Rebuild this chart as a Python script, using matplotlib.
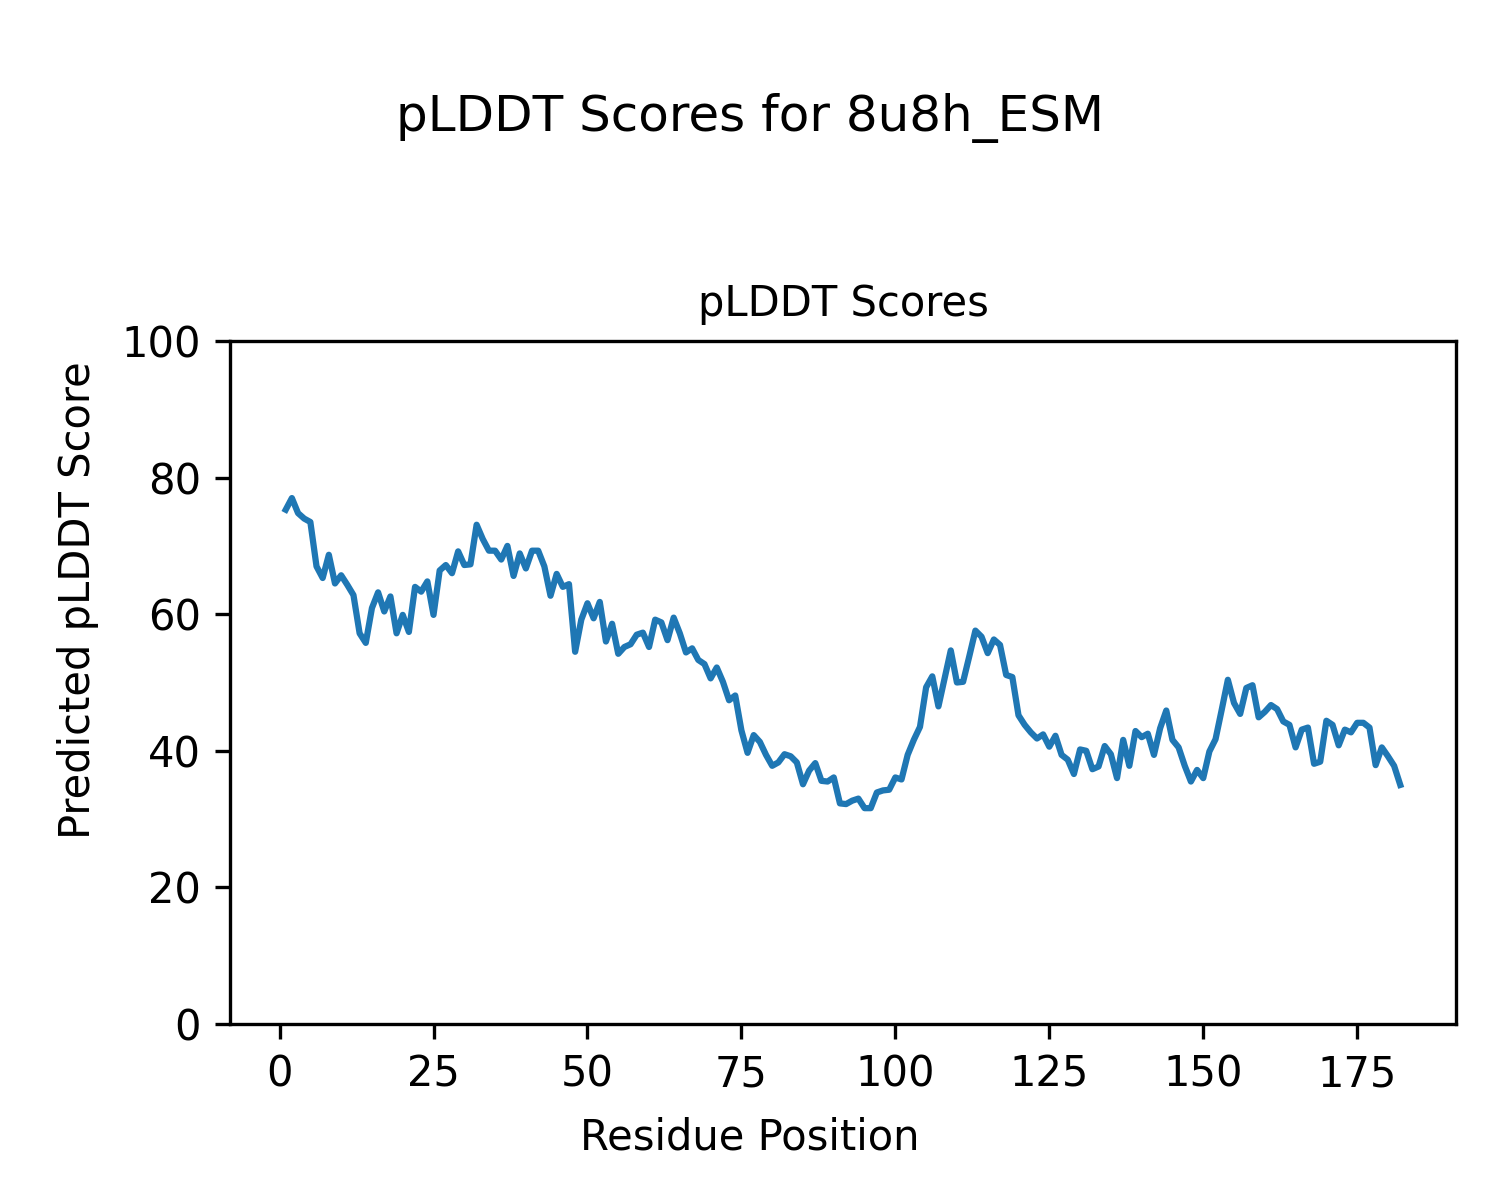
import matplotlib
matplotlib.use("Agg")
import matplotlib.pyplot as plt
import numpy as np

residues = list(range(1, 183))
plddt = [
    75.3, 77.0, 74.8, 74.0, 73.5, 67.0, 65.3, 68.7, 64.5, 65.7,
    64.3, 62.8, 57.2, 55.8, 60.9, 63.2, 60.4, 62.6, 57.2, 59.9,
    57.4, 64.0, 63.3, 64.8, 59.9, 66.4, 67.2, 66.0, 69.2, 67.2,
    67.3, 73.1, 71.0, 69.3, 69.3, 68.0, 70.0, 65.6, 68.9, 66.7,
    69.3, 69.3, 67.0, 62.7, 65.9, 64.0, 64.4, 54.5, 59.2, 61.6,
    59.4, 61.8, 56.0, 58.6, 54.2, 55.2, 55.6, 57.0, 57.3, 55.2,
    59.2, 58.8, 56.2, 59.5, 57.2, 54.4, 55.0, 53.3, 52.7, 50.6,
    52.2, 50.1, 47.4, 48.1, 43.0, 39.7, 42.3, 41.3, 39.4, 37.8,
    38.3, 39.5, 39.2, 38.3, 35.1, 37.1, 38.2, 35.6, 35.5, 36.1,
    32.3, 32.2, 32.7, 33.0, 31.6, 31.6, 33.9, 34.2, 34.3, 36.1,
    35.8, 39.4, 41.6, 43.5, 49.3, 50.9, 46.5, 50.6, 54.7, 50.0,
    50.1, 53.8, 57.6, 56.7, 54.3, 56.3, 55.5, 51.1, 50.8, 45.2,
    43.8, 42.7, 41.8, 42.4, 40.6, 42.2, 39.4, 38.7, 36.6, 40.2,
    40.0, 37.3, 37.7, 40.7, 39.5, 36.0, 41.6, 37.8, 42.9, 42.0,
    42.5, 39.4, 43.3, 45.9, 41.6, 40.5, 37.8, 35.5, 37.2, 36.0,
    39.9, 41.7, 46.0, 50.4, 47.0, 45.4, 49.2, 49.6, 44.9, 45.7,
    46.7, 46.1, 44.3, 43.8, 40.5, 43.1, 43.4, 38.1, 38.4, 44.4,
    43.8, 40.8, 43.1, 42.7, 44.1, 44.1, 43.4, 37.9, 40.5, 39.2,
    37.8, 35.0,
]

fig = plt.figure(figsize=(5, 4), dpi=300)
ax = fig.add_axes([230 / 1500, 1 - 1024 / 1200, (1456 - 230) / 1500, (1024 - 341) / 1200])
ax.plot(residues, plddt, color="#1f77b4", linewidth=1.5)
ax.set_ylim(0, 100)
ax.set_title("pLDDT Scores", fontsize=10)
fig.supxlabel("Residue Position", fontsize=10, x=0.5, y=1 - 1138 / 1200, va="center")
fig.supylabel("Predicted pLDDT Score", fontsize=10, x=78 / 1500, y=0.5, ha="center", va="center")
fig.suptitle("pLDDT Scores for 8u8h_ESM", fontsize=12, y=1 - 118 / 1200, va="center")
fig.savefig("out.png", dpi=300)
